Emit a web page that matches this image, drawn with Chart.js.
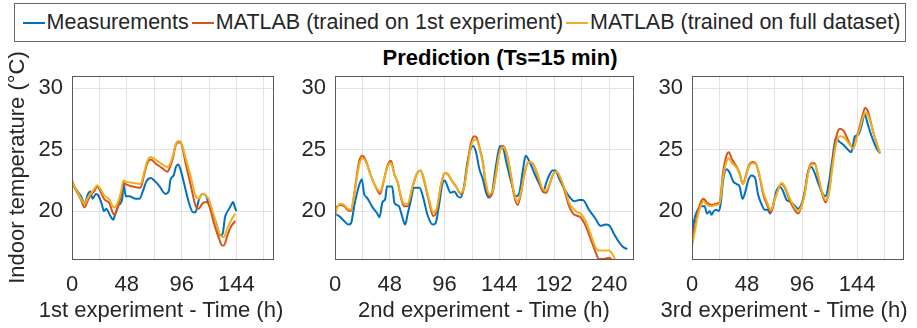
<!DOCTYPE html>
<html>
<head>
<meta charset="utf-8">
<script src="https://cdn.jsdelivr.net/npm/chart.js@4.4.1/dist/chart.umd.min.js"></script>
<style>
  body { margin: 0; background: #fff; width: 917px; height: 328px; overflow: hidden; position: relative;
         font-family: "Liberation Sans", Arial, sans-serif; color: #262626; }
  .legend { position: absolute; left: 14px; top: 3px; width: 890px; height: 37px; border: 1px solid #666;
            display: flex; align-items: center; justify-content: center; font-size: 21.5px; white-space: nowrap; }
  .legend i { display: inline-block; width: 22px; height: 2px; margin: 0 2px 0 3px; }
  .title { position: absolute; left: 300px; width: 400px; top: 46px; line-height: 24px; text-align: center;
           font-weight: bold; font-size: 22px; color: #000; }
  .xlabel { position: absolute; top: 298px; width: 300px; line-height: 24px; text-align: center;
            font-size: 22px; white-space: nowrap; }
  .panel { position: absolute; top: 44px; }
</style>
</head>
<body>
<div class="legend">
  <i style="background:#0072BD"></i>Measurements
  <i style="background:#D95319"></i>MATLAB (trained on 1st experiment)
  <i style="background:#EDB120"></i>MATLAB (trained on full dataset)
</div>
<div class="title">Prediction (Ts=15 min)</div>
<div class="panel" style="left:0px"><canvas id="exp1" width="290" height="284"></canvas></div>
<div class="panel" style="left:300px"><canvas id="exp2" width="345" height="284"></canvas></div>
<div class="panel" style="left:655px"><canvas id="exp3" width="262" height="284"></canvas></div>
<div class="xlabel" style="left:11px">1st experiment - Time (h)</div>
<div class="xlabel" style="left:334px">2nd experiment - Time (h)</div>
<div class="xlabel" style="left:634px">3rd experiment - Time (h)</div>
<script>
// ---- data (hours, °C) ----
const yTickValues = [20, 25, 30]
const labeledHours = [0, 48, 96, 144, 192, 240]
const gridHours1 = [0, 24, 48, 72, 96, 120, 144, 168]
const gridHours2 = [0, 24, 48, 72, 96, 120, 144, 168, 192, 216, 240]

// 1st experiment
const exp1MeasHours = [0,2,5,8,11,14,16,18,21,23,26,28,30,33,36,38,41,44,45,47,50,56,59,62,65,69,72,76,82,85,86,89,91,93,95,98,102,106,108,111,114,117,120,126,130,132,134,137,140,141,143,144]
const exp1MeasTemp = [22.5,22.0,21.6,21.2,20.6,21.4,21.6,21.0,21.4,21.3,20.6,20.0,20.2,19.7,19.3,19.8,20.5,21.0,22.4,21.2,21.2,21.0,21.0,21.6,22.4,22.7,22.5,22.1,21.4,21.7,22.5,22.9,23.6,23.8,23.4,22.3,20.8,19.9,19.9,20.9,21.4,21.3,20.5,19.1,18.0,18.2,19.5,20.1,20.6,20.75,20.2,20.0]
const exp1PredHours = [0,3.5,8,11,14,17,19.5,22,25,28,33,35.5,37,40,43,45,47,53,60,63,66,69,73,79,83.5,85,88,91,94,96,99.5,104,108,111,114,117,120,124,129,131.5,133,136,139,143]
const exp1Matlab1st = [22.4,21.7,20.9,20.3,20.9,21.4,21.6,22.0,21.6,21.0,20.6,19.9,19.7,20.3,21.3,22.3,22.2,22.0,21.9,22.9,23.9,24.2,23.9,23.5,23.2,23.4,24.2,25.4,25.6,25.4,23.9,22.1,20.5,20.2,20.6,20.75,20.5,19.1,17.7,17.2,17.2,18.0,18.7,19.2]
const exp1MatlabFull = [22.4,21.8,21.0,20.6,21.1,21.5,21.8,22.1,21.8,21.3,20.9,20.4,20.3,20.7,21.6,22.5,22.4,22.3,22.2,23.1,24.1,24.4,24.2,23.8,23.6,23.7,24.4,25.5,25.7,25.5,24.3,22.8,21.3,21.0,21.4,21.3,20.9,19.7,18.2,17.9,17.9,18.6,19.2,19.8]

// 2nd experiment
const exp2MeasHours = [0,3.5,8,12,14,17,20.5,23.5,25.5,28,33,37,39,41.5,44,45.5,47.5,50,52,54,56,59,61.5,63.5,66.5,69,74,77,81,85.5,88,91,94,96,99,101,104.5,107.5,110,113,116,121,123.5,126.5,129.5,132,134.5,137.5,141,144.5,147,150,154,158.5,161.5,164.5,167,170,174.5,179,182.5,185,187.5,190.5,193,196.5,201,205,209.5,214,217,222.5,228,232.5,237,240.5,244,248.5,252,256]
const exp2MeasTemp = [19.8,19.6,19.2,18.9,19.0,20.5,21.9,22.6,21.4,21.1,20.3,19.8,19.5,20.7,21.0,22.0,22.0,22.0,20.7,20.5,20.4,19.5,18.9,19.7,20.9,21.9,21.9,21.2,19.7,18.9,19.0,20.4,22.2,22.5,21.9,21.5,21.6,21.2,21.1,22.0,24.0,25.3,24.8,23.4,22.6,21.6,21.1,21.5,23.7,25.3,25.2,24.0,22.5,21.2,21.5,23.3,24.5,24.1,23.1,22.2,21.6,22.3,22.9,23.3,23.3,22.6,21.8,21.2,20.8,20.9,20.9,20.1,19.4,18.8,18.9,18.8,18.2,17.5,17.1,16.9]
const exp2PredHours = [0,2,5,8,11,14,17,21,24,27,31,35.5,39.5,43,46,49,52,55,57.5,60.5,63.5,68,72,75,78,82.5,86,89,93,96,99,101.5,106,110,113,116,119,122,124,127,129.5,132,135,138,141,144,147,150,154,157,160,163,166,169.5,173,177.5,182,185,188,191,194,198,201.5,205,208.5,212.5,215,219.5,224,228.5,231,235,240,243,246,250]
const exp2Matlab1st = [20.0,20.4,20.5,20.4,20.1,20.0,21.5,24.0,24.5,24.1,23.0,22.0,21.4,22.6,23.7,24.1,23.0,22.3,21.2,20.4,20.4,22.0,23.1,23.3,22.5,20.7,19.6,20.0,22.2,23.1,23.0,22.6,22.0,21.4,21.9,23.8,25.5,26.1,26.0,25.0,24.0,22.2,21.2,21.5,23.1,24.8,25.3,24.8,22.9,21.2,20.5,21.5,23.1,24.0,23.9,22.9,21.6,21.5,22.2,23.0,23.2,22.5,21.5,20.4,19.8,19.6,19.5,18.8,17.7,16.6,16.1,16.1,16.2,16.0,15.6,15.0]
const exp2MatlabFull = [19.5,20.3,20.6,20.5,20.2,20.1,21.4,23.7,24.3,24.0,23.0,22.0,21.6,22.6,23.6,23.9,23.0,22.3,21.3,20.6,20.6,22.0,23.1,23.3,22.6,20.9,19.9,20.2,22.2,23.1,23.0,22.6,22.0,21.5,21.9,23.6,25.2,25.8,25.8,24.9,23.9,22.4,21.4,21.6,23.0,24.7,25.2,24.8,23.0,21.4,20.8,21.6,23.0,24.0,23.9,23.0,21.8,21.7,22.2,23.0,23.2,22.6,21.7,20.7,20.2,19.9,19.8,19.2,18.1,17.0,16.8,16.8,16.8,16.5,15.9,15.3]

// 3rd experiment
const exp3MeasHours = [0,2,5,8,11,13,15.5,17,19,21,23.5,25,27,30,33,36,39,41.5,44,46,49,52,55,57.5,60.5,63.5,66,68,70.5,73.5,76.5,79.5,82.5,85,88,92.5,95.5,98.5,101,104,107,110,113,116.5,119.5,122.5,125.5,128,132,136,139,142,145,148,150.5,153.5,157,161,164]
const exp3MeasTemp = [17.9,19.3,20.1,20.4,20.4,19.8,20.0,19.7,20.0,20.1,20.0,20.6,22.4,23.4,23.1,22.4,22.2,22.0,21.0,21.4,22.5,22.9,22.7,21.4,20.6,20.1,20.1,19.8,20.4,21.6,22.0,21.6,20.9,20.8,20.6,20.2,20.6,21.7,23.1,23.6,23.1,22.3,21.6,21.2,22.4,24.3,26.0,25.7,25.4,25.0,24.8,26.1,26.2,27.0,27.9,27.0,26.0,25.1,24.7]
const exp3PredHours = [0,2,5,8,10,13,17,21,24,27,30,32,35,39,41.5,44.5,47.5,50,53,56,59,62,66,69,72,75,78,81,85,89.5,92.5,95.5,98.5,101,104,107,110,113,116.5,119.5,122.5,126,129,132.5,136,140.5,143.5,146,149,151,153.5,157,161,164]
const exp3Matlab1st = [17.3,18.4,19.9,20.8,21.0,20.7,20.5,20.6,20.7,23.1,24.5,24.8,24.2,23.6,23.1,22.2,23.1,23.8,24.0,23.8,22.8,21.4,20.4,19.9,20.9,21.7,22.2,21.9,20.9,20.1,19.8,20.4,21.6,23.1,23.9,23.9,22.8,21.6,20.7,21.6,23.9,26.1,26.7,26.5,25.8,25.1,26.0,26.8,27.9,28.4,28.1,26.8,25.5,24.7]
const exp3MatlabFull = [17.2,18.1,19.6,20.5,20.8,20.5,20.4,20.5,20.6,22.7,24.0,24.3,23.9,23.5,23.0,22.2,23.0,23.7,23.9,23.8,22.9,21.6,20.6,20.1,20.9,21.7,22.3,22.0,21.1,20.3,20.0,20.4,21.5,22.9,23.8,23.8,22.9,21.7,20.9,21.5,23.6,25.6,26.1,26.0,25.6,25.1,25.9,26.6,27.6,28.0,27.8,26.8,25.5,24.7]

const fontFamily = '"Liberation Sans", Arial, sans-serif'
const textColor = '#262626'

const toPoints = (hours, temps) => hours.map((h, i) => ({ x: h, y: temps[i] }))

// frame around the plot area, like a matlab box
const boxFrame = {
    id: 'boxFrame',
    afterDraw(chart) {
        const { ctx, chartArea: a } = chart
        ctx.save()
        ctx.strokeStyle = '#5a5a5a'
        ctx.lineWidth = 1
        ctx.strokeRect(Math.round(a.left) + 0.5, Math.round(a.top) + 0.5,
            Math.round(a.right - a.left), Math.round(a.bottom - a.top))
        ctx.restore()
    }
}

const makeLine = (label, data, color, order) => ({
    label: label,
    data: data,
    borderColor: color,
    backgroundColor: color,
    borderWidth: 2,
    pointRadius: 0,
    cubicInterpolationMode: 'monotone',
    clip: 0,
    order: order,
})

const makePanel = (id, p) => {
    new Chart(document.getElementById(id), {
        type: 'line',
        data: {
            datasets: [
                makeLine('Measurements', toPoints(p.measHours, p.meas), '#0072BD', 3),
                makeLine('MATLAB (trained on 1st experiment)', toPoints(p.predHours, p.first), '#D95319', 2),
                makeLine('MATLAB (trained on full dataset)', toPoints(p.predHours, p.full), '#EDB120', 1),
            ]
        },
        options: {
            responsive: false,
            animation: false,
            events: [],
            layout: { autoPadding: false, padding: { top: 32, right: p.padRight, left: 0, bottom: 0 } },
            plugins: { legend: { display: false }, tooltip: { enabled: false } },
            scales: {
                x: {
                    type: 'linear', min: 0, max: p.xMax,
                    afterBuildTicks: s => { s.ticks = p.gridHours.map(v => ({ value: v })) },
                    afterFit: s => { s.height = 69 },
                    grid: { color: '#e2e2e2', drawTicks: false },
                    border: { display: false },
                    ticks: {
                        padding: 13, color: textColor, autoSkip: false, maxRotation: 0,
                        font: { size: 22, family: fontFamily },
                        callback: v => labeledHours.includes(v) ? String(v) : ''
                    }
                },
                y: {
                    min: 16.1, max: 31,
                    afterBuildTicks: s => { s.ticks = yTickValues.map(v => ({ value: v })) },
                    afterFit: s => { s.width = p.yWidth },
                    grid: { color: '#e2e2e2', drawTicks: false },
                    border: { display: false },
                    ticks: { padding: 9, color: textColor, font: { size: 22, family: fontFamily } },
                    title: {
                        display: p.showYTitle, text: 'Indoor temperature (°C)', color: textColor,
                        font: { size: 22, family: fontFamily }, padding: { top: 5, bottom: 0 }
                    }
                }
            }
        },
        plugins: [boxFrame]
    })
}

makePanel('exp1', {
    measHours: exp1MeasHours, meas: exp1MeasTemp, predHours: exp1PredHours,
    first: exp1Matlab1st, full: exp1MatlabFull,
    xMax: 176, gridHours: gridHours1, yWidth: 72, padRight: 17, showYTitle: true
})
makePanel('exp2', {
    measHours: exp2MeasHours, meas: exp2MeasTemp, predHours: exp2PredHours,
    first: exp2Matlab1st, full: exp2MatlabFull,
    xMax: 261, gridHours: gridHours2, yWidth: 35, padRight: 12, showYTitle: false
})
makePanel('exp3', {
    measHours: exp3MeasHours, meas: exp3MeasTemp, predHours: exp3PredHours,
    first: exp3Matlab1st, full: exp3MatlabFull,
    xMax: 184, gridHours: gridHours1, yWidth: 37, padRight: 14, showYTitle: false
})
</script>
</body>
</html>
